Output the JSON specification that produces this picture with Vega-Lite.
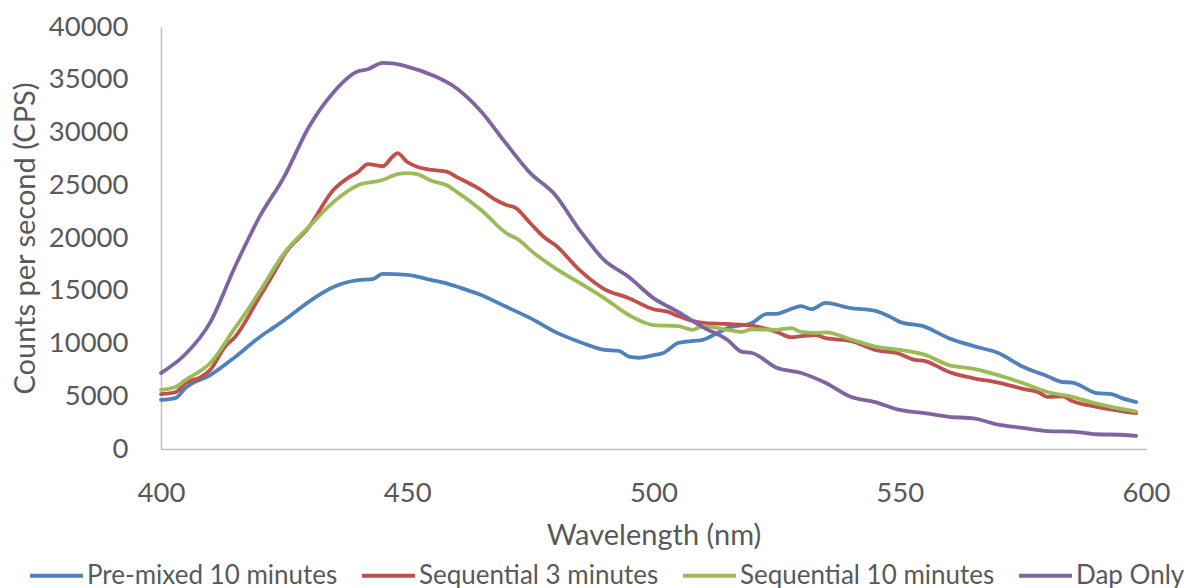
{
  "$schema": "https://vega.github.io/schema/vega-lite/v6.json",
  "width": 985,
  "height": 422,
  "autosize": {"type": "none"},
  "padding": {"left": 161, "top": 27, "right": 42, "bottom": 139},
  "background": "white",
  "config": {
    "view": {"stroke": null},
    "font": "Lato",
    "axis": {
      "domainColor": "#bfbfbf",
      "domainWidth": 1.5,
      "ticks": false,
      "grid": false,
      "labelColor": "#595959",
      "titleColor": "#595959",
      "labelFont": "Lato",
      "titleFont": "Lato",
      "labelFontSize": 27.5,
      "titleFontSize": 29,
      "titleFontWeight": "normal"
    },
    "legend": {
      "labelFont": "Lato",
      "labelFontSize": 26,
      "labelColor": "#595959",
      "labelLimit": 500
    }
  },
  "data": {
    "values": [
      {"series": "Pre-mixed 10 minutes", "wl": 400, "cps": 4650},
      {"series": "Pre-mixed 10 minutes", "wl": 403, "cps": 4850},
      {"series": "Pre-mixed 10 minutes", "wl": 405, "cps": 5800},
      {"series": "Pre-mixed 10 minutes", "wl": 410, "cps": 7000},
      {"series": "Pre-mixed 10 minutes", "wl": 415, "cps": 8700},
      {"series": "Pre-mixed 10 minutes", "wl": 420, "cps": 10600},
      {"series": "Pre-mixed 10 minutes", "wl": 423, "cps": 11550},
      {"series": "Pre-mixed 10 minutes", "wl": 425, "cps": 12200},
      {"series": "Pre-mixed 10 minutes", "wl": 430, "cps": 13950},
      {"series": "Pre-mixed 10 minutes", "wl": 435, "cps": 15350},
      {"series": "Pre-mixed 10 minutes", "wl": 440, "cps": 16000},
      {"series": "Pre-mixed 10 minutes", "wl": 443, "cps": 16100},
      {"series": "Pre-mixed 10 minutes", "wl": 445, "cps": 16600},
      {"series": "Pre-mixed 10 minutes", "wl": 450, "cps": 16500},
      {"series": "Pre-mixed 10 minutes", "wl": 455, "cps": 16000},
      {"series": "Pre-mixed 10 minutes", "wl": 458, "cps": 15700},
      {"series": "Pre-mixed 10 minutes", "wl": 460, "cps": 15400},
      {"series": "Pre-mixed 10 minutes", "wl": 465, "cps": 14600},
      {"series": "Pre-mixed 10 minutes", "wl": 470, "cps": 13500},
      {"series": "Pre-mixed 10 minutes", "wl": 475, "cps": 12400},
      {"series": "Pre-mixed 10 minutes", "wl": 480, "cps": 11100},
      {"series": "Pre-mixed 10 minutes", "wl": 485, "cps": 10150},
      {"series": "Pre-mixed 10 minutes", "wl": 490, "cps": 9400},
      {"series": "Pre-mixed 10 minutes", "wl": 493, "cps": 9300},
      {"series": "Pre-mixed 10 minutes", "wl": 495, "cps": 8750},
      {"series": "Pre-mixed 10 minutes", "wl": 497, "cps": 8650},
      {"series": "Pre-mixed 10 minutes", "wl": 500, "cps": 8900},
      {"series": "Pre-mixed 10 minutes", "wl": 502, "cps": 9100},
      {"series": "Pre-mixed 10 minutes", "wl": 505, "cps": 10050},
      {"series": "Pre-mixed 10 minutes", "wl": 508, "cps": 10250},
      {"series": "Pre-mixed 10 minutes", "wl": 510, "cps": 10350},
      {"series": "Pre-mixed 10 minutes", "wl": 513, "cps": 11000},
      {"series": "Pre-mixed 10 minutes", "wl": 515, "cps": 11450},
      {"series": "Pre-mixed 10 minutes", "wl": 520, "cps": 11950},
      {"series": "Pre-mixed 10 minutes", "wl": 523, "cps": 12800},
      {"series": "Pre-mixed 10 minutes", "wl": 525, "cps": 12800},
      {"series": "Pre-mixed 10 minutes", "wl": 527, "cps": 13100},
      {"series": "Pre-mixed 10 minutes", "wl": 530, "cps": 13550},
      {"series": "Pre-mixed 10 minutes", "wl": 532, "cps": 13250},
      {"series": "Pre-mixed 10 minutes", "wl": 535, "cps": 13850},
      {"series": "Pre-mixed 10 minutes", "wl": 540, "cps": 13350},
      {"series": "Pre-mixed 10 minutes", "wl": 545, "cps": 13100},
      {"series": "Pre-mixed 10 minutes", "wl": 548, "cps": 12550},
      {"series": "Pre-mixed 10 minutes", "wl": 550, "cps": 12050},
      {"series": "Pre-mixed 10 minutes", "wl": 555, "cps": 11600},
      {"series": "Pre-mixed 10 minutes", "wl": 560, "cps": 10500},
      {"series": "Pre-mixed 10 minutes", "wl": 565, "cps": 9750},
      {"series": "Pre-mixed 10 minutes", "wl": 570, "cps": 9100},
      {"series": "Pre-mixed 10 minutes", "wl": 575, "cps": 7800},
      {"series": "Pre-mixed 10 minutes", "wl": 580, "cps": 6900},
      {"series": "Pre-mixed 10 minutes", "wl": 583, "cps": 6350},
      {"series": "Pre-mixed 10 minutes", "wl": 585, "cps": 6300},
      {"series": "Pre-mixed 10 minutes", "wl": 590, "cps": 5300},
      {"series": "Pre-mixed 10 minutes", "wl": 593, "cps": 5200},
      {"series": "Pre-mixed 10 minutes", "wl": 595, "cps": 4850},
      {"series": "Pre-mixed 10 minutes", "wl": 598, "cps": 4450},

      {"series": "Sequential 3 minutes", "wl": 400, "cps": 5200},
      {"series": "Sequential 3 minutes", "wl": 403, "cps": 5400},
      {"series": "Sequential 3 minutes", "wl": 405, "cps": 6250},
      {"series": "Sequential 3 minutes", "wl": 408, "cps": 6800},
      {"series": "Sequential 3 minutes", "wl": 410, "cps": 7500},
      {"series": "Sequential 3 minutes", "wl": 413, "cps": 9700},
      {"series": "Sequential 3 minutes", "wl": 415, "cps": 10600},
      {"series": "Sequential 3 minutes", "wl": 420, "cps": 14400},
      {"series": "Sequential 3 minutes", "wl": 423, "cps": 16750},
      {"series": "Sequential 3 minutes", "wl": 425, "cps": 18400},
      {"series": "Sequential 3 minutes", "wl": 430, "cps": 21000},
      {"series": "Sequential 3 minutes", "wl": 435, "cps": 24550},
      {"series": "Sequential 3 minutes", "wl": 438, "cps": 25700},
      {"series": "Sequential 3 minutes", "wl": 440, "cps": 26250},
      {"series": "Sequential 3 minutes", "wl": 442, "cps": 27000},
      {"series": "Sequential 3 minutes", "wl": 445, "cps": 26800},
      {"series": "Sequential 3 minutes", "wl": 447, "cps": 27700},
      {"series": "Sequential 3 minutes", "wl": 448, "cps": 28050},
      {"series": "Sequential 3 minutes", "wl": 450, "cps": 27200},
      {"series": "Sequential 3 minutes", "wl": 452, "cps": 26750},
      {"series": "Sequential 3 minutes", "wl": 455, "cps": 26450},
      {"series": "Sequential 3 minutes", "wl": 458, "cps": 26300},
      {"series": "Sequential 3 minutes", "wl": 460, "cps": 25800},
      {"series": "Sequential 3 minutes", "wl": 465, "cps": 24550},
      {"series": "Sequential 3 minutes", "wl": 468, "cps": 23600},
      {"series": "Sequential 3 minutes", "wl": 470, "cps": 23150},
      {"series": "Sequential 3 minutes", "wl": 472, "cps": 22850},
      {"series": "Sequential 3 minutes", "wl": 475, "cps": 21400},
      {"series": "Sequential 3 minutes", "wl": 478, "cps": 20000},
      {"series": "Sequential 3 minutes", "wl": 480, "cps": 19350},
      {"series": "Sequential 3 minutes", "wl": 485, "cps": 16950},
      {"series": "Sequential 3 minutes", "wl": 490, "cps": 15150},
      {"series": "Sequential 3 minutes", "wl": 495, "cps": 14300},
      {"series": "Sequential 3 minutes", "wl": 500, "cps": 13250},
      {"series": "Sequential 3 minutes", "wl": 503, "cps": 13000},
      {"series": "Sequential 3 minutes", "wl": 505, "cps": 12600},
      {"series": "Sequential 3 minutes", "wl": 510, "cps": 11950},
      {"series": "Sequential 3 minutes", "wl": 515, "cps": 11850},
      {"series": "Sequential 3 minutes", "wl": 520, "cps": 11700},
      {"series": "Sequential 3 minutes", "wl": 525, "cps": 11100},
      {"series": "Sequential 3 minutes", "wl": 528, "cps": 10600},
      {"series": "Sequential 3 minutes", "wl": 530, "cps": 10700},
      {"series": "Sequential 3 minutes", "wl": 533, "cps": 10800},
      {"series": "Sequential 3 minutes", "wl": 535, "cps": 10500},
      {"series": "Sequential 3 minutes", "wl": 540, "cps": 10250},
      {"series": "Sequential 3 minutes", "wl": 545, "cps": 9400},
      {"series": "Sequential 3 minutes", "wl": 550, "cps": 9000},
      {"series": "Sequential 3 minutes", "wl": 553, "cps": 8450},
      {"series": "Sequential 3 minutes", "wl": 555, "cps": 8350},
      {"series": "Sequential 3 minutes", "wl": 560, "cps": 7300},
      {"series": "Sequential 3 minutes", "wl": 565, "cps": 6700},
      {"series": "Sequential 3 minutes", "wl": 570, "cps": 6300},
      {"series": "Sequential 3 minutes", "wl": 575, "cps": 5700},
      {"series": "Sequential 3 minutes", "wl": 578, "cps": 5400},
      {"series": "Sequential 3 minutes", "wl": 580, "cps": 4950},
      {"series": "Sequential 3 minutes", "wl": 583, "cps": 5000},
      {"series": "Sequential 3 minutes", "wl": 585, "cps": 4550},
      {"series": "Sequential 3 minutes", "wl": 590, "cps": 4000},
      {"series": "Sequential 3 minutes", "wl": 595, "cps": 3600},
      {"series": "Sequential 3 minutes", "wl": 598, "cps": 3400},

      {"series": "Sequential 10 minutes", "wl": 400, "cps": 5600},
      {"series": "Sequential 10 minutes", "wl": 403, "cps": 5900},
      {"series": "Sequential 10 minutes", "wl": 405, "cps": 6550},
      {"series": "Sequential 10 minutes", "wl": 410, "cps": 8150},
      {"series": "Sequential 10 minutes", "wl": 415, "cps": 11450},
      {"series": "Sequential 10 minutes", "wl": 418, "cps": 13450},
      {"series": "Sequential 10 minutes", "wl": 420, "cps": 14900},
      {"series": "Sequential 10 minutes", "wl": 425, "cps": 18550},
      {"series": "Sequential 10 minutes", "wl": 430, "cps": 21050},
      {"series": "Sequential 10 minutes", "wl": 435, "cps": 23400},
      {"series": "Sequential 10 minutes", "wl": 440, "cps": 25000},
      {"series": "Sequential 10 minutes", "wl": 445, "cps": 25500},
      {"series": "Sequential 10 minutes", "wl": 448, "cps": 26050},
      {"series": "Sequential 10 minutes", "wl": 450, "cps": 26150},
      {"series": "Sequential 10 minutes", "wl": 452, "cps": 26050},
      {"series": "Sequential 10 minutes", "wl": 455, "cps": 25400},
      {"series": "Sequential 10 minutes", "wl": 458, "cps": 25000},
      {"series": "Sequential 10 minutes", "wl": 460, "cps": 24400},
      {"series": "Sequential 10 minutes", "wl": 465, "cps": 22650},
      {"series": "Sequential 10 minutes", "wl": 470, "cps": 20500},
      {"series": "Sequential 10 minutes", "wl": 473, "cps": 19700},
      {"series": "Sequential 10 minutes", "wl": 475, "cps": 18850},
      {"series": "Sequential 10 minutes", "wl": 480, "cps": 17150},
      {"series": "Sequential 10 minutes", "wl": 485, "cps": 15750},
      {"series": "Sequential 10 minutes", "wl": 490, "cps": 14300},
      {"series": "Sequential 10 minutes", "wl": 495, "cps": 12700},
      {"series": "Sequential 10 minutes", "wl": 500, "cps": 11750},
      {"series": "Sequential 10 minutes", "wl": 505, "cps": 11650},
      {"series": "Sequential 10 minutes", "wl": 508, "cps": 11300},
      {"series": "Sequential 10 minutes", "wl": 510, "cps": 11650},
      {"series": "Sequential 10 minutes", "wl": 515, "cps": 11300},
      {"series": "Sequential 10 minutes", "wl": 518, "cps": 11100},
      {"series": "Sequential 10 minutes", "wl": 520, "cps": 11350},
      {"series": "Sequential 10 minutes", "wl": 525, "cps": 11300},
      {"series": "Sequential 10 minutes", "wl": 528, "cps": 11450},
      {"series": "Sequential 10 minutes", "wl": 530, "cps": 11100},
      {"series": "Sequential 10 minutes", "wl": 533, "cps": 11000},
      {"series": "Sequential 10 minutes", "wl": 535, "cps": 11050},
      {"series": "Sequential 10 minutes", "wl": 540, "cps": 10400},
      {"series": "Sequential 10 minutes", "wl": 545, "cps": 9700},
      {"series": "Sequential 10 minutes", "wl": 550, "cps": 9400},
      {"series": "Sequential 10 minutes", "wl": 555, "cps": 8950},
      {"series": "Sequential 10 minutes", "wl": 560, "cps": 7950},
      {"series": "Sequential 10 minutes", "wl": 565, "cps": 7600},
      {"series": "Sequential 10 minutes", "wl": 570, "cps": 7000},
      {"series": "Sequential 10 minutes", "wl": 575, "cps": 6250},
      {"series": "Sequential 10 minutes", "wl": 580, "cps": 5400},
      {"series": "Sequential 10 minutes", "wl": 585, "cps": 4950},
      {"series": "Sequential 10 minutes", "wl": 590, "cps": 4300},
      {"series": "Sequential 10 minutes", "wl": 595, "cps": 3800},
      {"series": "Sequential 10 minutes", "wl": 598, "cps": 3550},

      {"series": "Dap Only", "wl": 400, "cps": 7200},
      {"series": "Dap Only", "wl": 405, "cps": 9000},
      {"series": "Dap Only", "wl": 410, "cps": 12000},
      {"series": "Dap Only", "wl": 415, "cps": 17250},
      {"series": "Dap Only", "wl": 420, "cps": 22000},
      {"series": "Dap Only", "wl": 425, "cps": 25800},
      {"series": "Dap Only", "wl": 430, "cps": 30500},
      {"series": "Dap Only", "wl": 435, "cps": 33800},
      {"series": "Dap Only", "wl": 440, "cps": 35800},
      {"series": "Dap Only", "wl": 442, "cps": 36000},
      {"series": "Dap Only", "wl": 445, "cps": 36600},
      {"series": "Dap Only", "wl": 447, "cps": 36550},
      {"series": "Dap Only", "wl": 450, "cps": 36250},
      {"series": "Dap Only", "wl": 455, "cps": 35450},
      {"series": "Dap Only", "wl": 460, "cps": 34200},
      {"series": "Dap Only", "wl": 465, "cps": 32000},
      {"series": "Dap Only", "wl": 470, "cps": 29000},
      {"series": "Dap Only", "wl": 475, "cps": 26150},
      {"series": "Dap Only", "wl": 480, "cps": 24100},
      {"series": "Dap Only", "wl": 485, "cps": 20750},
      {"series": "Dap Only", "wl": 490, "cps": 17900},
      {"series": "Dap Only", "wl": 495, "cps": 16300},
      {"series": "Dap Only", "wl": 500, "cps": 14300},
      {"series": "Dap Only", "wl": 505, "cps": 13000},
      {"series": "Dap Only", "wl": 510, "cps": 11550},
      {"series": "Dap Only", "wl": 515, "cps": 10350},
      {"series": "Dap Only", "wl": 518, "cps": 9200},
      {"series": "Dap Only", "wl": 520, "cps": 9100},
      {"series": "Dap Only", "wl": 525, "cps": 7700},
      {"series": "Dap Only", "wl": 530, "cps": 7200},
      {"series": "Dap Only", "wl": 535, "cps": 6250},
      {"series": "Dap Only", "wl": 540, "cps": 4950},
      {"series": "Dap Only", "wl": 545, "cps": 4450},
      {"series": "Dap Only", "wl": 550, "cps": 3700},
      {"series": "Dap Only", "wl": 555, "cps": 3400},
      {"series": "Dap Only", "wl": 560, "cps": 3050},
      {"series": "Dap Only", "wl": 565, "cps": 2900},
      {"series": "Dap Only", "wl": 570, "cps": 2300},
      {"series": "Dap Only", "wl": 575, "cps": 2000},
      {"series": "Dap Only", "wl": 580, "cps": 1700},
      {"series": "Dap Only", "wl": 585, "cps": 1650},
      {"series": "Dap Only", "wl": 590, "cps": 1400},
      {"series": "Dap Only", "wl": 595, "cps": 1350},
      {"series": "Dap Only", "wl": 598, "cps": 1250}
    ]
  },
  "mark": {"type": "line", "interpolate": "monotone", "strokeWidth": 3.8, "strokeCap": "round"},
  "encoding": {
    "x": {
      "field": "wl",
      "type": "quantitative",
      "scale": {"domain": [400, 600], "nice": false, "zero": false},
      "axis": {
        "values": [400, 450, 500, 550, 600],
        "format": "d",
        "labelPadding": 30,
        "title": "Wavelength (nm)",
        "titleY": 86,
        "titleBaseline": "middle",
        "labelFlush": false
      }
    },
    "y": {
      "field": "cps",
      "type": "quantitative",
      "scale": {"domain": [0, 40000], "nice": false},
      "axis": {
        "values": [0, 5000, 10000, 15000, 20000, 25000, 30000, 35000, 40000],
        "format": "d",
        "labelPadding": 33,
        "title": "Counts per second (CPS)",
        "titleX": -136,
        "titleY": 211,
        "titleAngle": 270,
        "titleAlign": "center",
        "titleBaseline": "middle"
      }
    },
    "color": {
      "field": "series",
      "type": "nominal",
      "scale": {
        "domain": ["Pre-mixed 10 minutes", "Sequential 3 minutes", "Sequential 10 minutes", "Dap Only"],
        "range": ["#4f81bd", "#c0504d", "#9bbb59", "#8064a2"]
      },
      "legend": {
        "title": null,
        "orient": "none",
        "direction": "horizontal",
        "columns": 4,
        "legendX": -133,
        "legendY": 520,
        "symbolType": "stroke",
        "symbolSize": 2809,
        "symbolStrokeWidth": 3.8,
        "labelOffset": 2,
        "columnPadding": 16
      }
    }
  }
}
